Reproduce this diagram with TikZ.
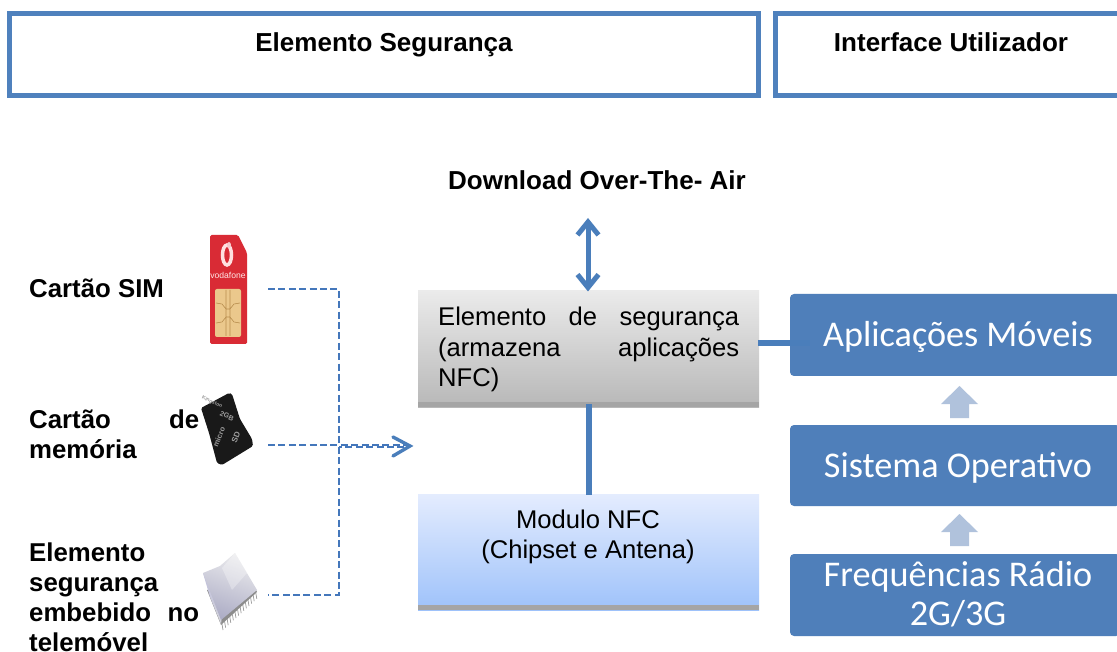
\documentclass[tikz,border=0pt]{standalone}
\usepackage{fontspec}
\setmainfont{Liberation Sans}
\newfontfamily\appfont{Carlito}
\usetikzlibrary{arrows.meta,calc}
\definecolor{frameblue}{HTML}{4F81BD}
\definecolor{linkblue}{HTML}{4A7EBB}
\definecolor{dashblue}{HTML}{4477BB}
\definecolor{paleup}{HTML}{B0C2DC}
\definecolor{appblue}{HTML}{4F7FBA}
\definecolor{simred}{HTML}{D92B35}
\definecolor{simchip}{HTML}{EBC88C}
\definecolor{simline}{HTML}{B98F50}
\definecolor{bargrey}{HTML}{A5A5A5}
\tikzset{
 frame/.style={draw=frameblue,line width=5pt,fill=white,outer sep=0pt,inner sep=0pt,anchor=north west},
 head/.style={font=\bfseries\fontsize{26}{30}\selectfont,inner sep=0pt,anchor=base},
 side/.style={font=\bfseries\fontsize{25.8}{30}\selectfont,inner sep=0pt,anchor=north west,align=left},
 body/.style={font=\fontsize{25.6}{30.5}\selectfont,inner sep=0pt},
 app/.style={rounded corners=4pt,fill=appblue,minimum width=330pt,anchor=north west,inner sep=0pt,outer sep=0pt},
 applabel/.style={text=white,font=\appfont\fontsize{36.2}{39}\selectfont,inner sep=0pt,align=center},
 dashlink/.style={draw=dashblue,line width=2pt,dash pattern=on 7pt off 3.4pt},
 solidlink/.style={draw=linkblue,line width=6pt},
 biarrow/.style={draw=linkblue,line width=5pt,{Straight Barb[length=13pt,width=21pt,line width=5pt]}-{Straight Barb[length=13pt,width=21pt,line width=5pt]}},
 uparrow/.style={fill=paleup,draw=none},
 tiny/.style={inner sep=0pt,text=black!38}
}
\begin{document}
\begin{tikzpicture}[x=1pt,y=-1pt]
\useasboundingbox (0,0) rectangle (1117,652);
\fill[white] (0,0) rectangle (1117,652);
% header frames
\node[frame,minimum width=749pt,minimum height=82pt] (seg) at (9.5,13.5) {};
\node[frame,minimum width=350pt,minimum height=82pt] (ui) at (775.5,13.5) {};
\node[head] (segt) at (384,52) {Elemento Segurança};
\node[head] (uit) at (951,52) {Interface Utilizador};
\node[head] (ota) at (597,190) {Download Over-The- Air};
% central boxes
\node[minimum width=341pt,minimum height=116pt,anchor=north west,inner sep=0pt,outer sep=0pt,top color=black!8,bottom color=black!28] (se) at (418,291) {};
\fill[bargrey] (418,402) rectangle (759,407);
\node[minimum width=341pt,minimum height=116pt,anchor=north west,inner sep=0pt,outer sep=0pt,top color={rgb,255:red,228;green,236;blue,254},bottom color={rgb,255:red,158;green,194;blue,250}] (nfc) at (418,494) {};
\fill[bargrey] (418,605) rectangle (759,610);
\node[body,anchor=north west] (setxt) at (438,307) {\parbox[t]{301pt}{\hbox to 301pt{Elemento\hfill de\hfill segurança}\hbox to 301pt{(armazena\hfill aplicações}\hbox to 301pt{NFC)\hfill}}};
\node[body,align=center] (nfctxt) at (588,537) {Modulo NFC\\(Chipset e Antena)};
% right stack
\node[app,minimum height=82pt] (apps) at (790,294) {};
\node[app,minimum height=81pt] (sys) at (790,425) {};
\node[app,minimum height=82pt] (rad) at (790,554) {};
\node[applabel] (appst) at (958,337) {Aplicações Móveis};
\node[applabel] (syst) at (958,468) {Sistema Operativo};
\node[applabel] (radt) at (958,594) {Frequências Rádio\\2G/3G};
\fill[uparrow] (959.5,386) -- (978,404) -- (969,404) -- (969,418) -- (950,418) -- (950,404) -- (941,404) -- cycle;
\fill[uparrow] (959.5,514) -- (978,532) -- (969,532) -- (969,546) -- (950,546) -- (950,532) -- (941,532) -- cycle;
% solid links
\coordinate (otaTip) at (588,218);
\coordinate (otaEnd) at (588,291.5);
\draw[biarrow] (otaTip) -- (otaEnd);
\draw[solidlink] (589,404) -- (589,495);
\draw[solidlink] (758,343.5) -- (810,343.5);
% SIM
\fill[simred,rounded corners=1.5pt] (210,235) -- (238,235) -- (247,253) -- (247,344) -- (210,344) -- cycle;
\draw[white!88!red,line width=3.5pt] (227,255) ellipse[x radius=4.5pt,y radius=10pt];
\fill[white!75!simred] (229,245) ellipse[x radius=2pt,y radius=3pt];
\node[text=white!90!red,font=\fontsize{8.6}{9}\selectfont,inner sep=0pt] (voda) at (228,275) {vodafone};
\fill[simchip,rounded corners=2pt] (215,289) rectangle (241,337);
\draw[simline,line width=.6pt] (216,303)--(222,304)--(226,309) (240,303)--(234,304)--(230,309) (216,323)--(222,322)--(226,317) (240,323)--(234,322)--(230,317) (226,309)--(230,309)--(230,317)--(226,317)--cycle (226,290)--(226,309) (230,290)--(230,309) (226,317)--(226,336) (230,317)--(230,336);
% micro SD
\fill[black!90,rounded corners=1.5pt] (201,408) -- (229,393) -- (232,394) -- (240,419) -- (252,439) -- (253,446) -- (222,465) -- (217,463) -- (209,433) -- cycle;
\node[tiny,font=\bfseries\fontsize{5}{5}\selectfont,rotate=-24] (king) at (212,402) {Kingston};
\node[tiny,font=\bfseries\fontsize{7}{7}\selectfont,rotate=-24] (gb) at (227,416) {2GB};
\node[tiny,font=\bfseries\fontsize{7.5}{7.5}\selectfont,rotate=68] (sd) at (219,437) {micro};
\node[tiny,font=\bfseries\fontsize{8}{8}\selectfont,rotate=68] (sdb) at (236,437) {SD};
% chip
\foreach \i in {0,...,13} {\draw[black!40,line width=.7pt] ({222+2.6*\i},{624-2.4*\i}) -- ({223+2.6*\i},{630-2.4*\i});}
\fill[black!45] (207,590) -- (221,625) -- (257,592) -- (255,588) -- cycle;
\shade[left color=black!55!blue!25!white,right color=blue!10!black!15!white] (203,573) -- (210,597) -- (221,624) -- (224,600) -- cycle;
\shade[top color=blue!12!black!8!white,bottom color=blue!30!black!32!white,shading angle=-20] (203,573) -- (220,566) -- (235,553) -- (257,590) -- (221,620) -- cycle;
\fill[white,opacity=.3] (222,568) -- (235,553) -- (247,573) -- (232,590) -- cycle;
% dashed links
\coordinate (d1) at (268,289);
\coordinate (d2) at (268,445);
\coordinate (d3) at (268,595);
\coordinate (m) at (339,445);
\coordinate (dtip) at (410,446);
\draw[dashlink] (d1) -- (339,289) -- (339,595) -- (d3);
\draw[dashlink] (d2) -- (m) -- (406,445);
\draw[dashlink,dash phase=4pt] (m) ++(0,1.5) -- (406,446.5);
\draw[linkblue,line width=3.4pt,line cap=round] (393,437) -- (dtip) -- (393,456);
% left labels
\node[side] (l1) at (29,279) {Cartão SIM};
\node[side] (l2) at (29,410) {\parbox[t]{170pt}{\hbox to 170pt{Cartão\hfill de}\hbox{memória}}};
\node[side] (l3) at (29,542.5) {\parbox[t]{170pt}{\hbox{Elemento}\hbox{segurança}\hbox to 170pt{embebido\hfill no}\hbox{telemóvel}}};
\end{tikzpicture}
\end{document}
